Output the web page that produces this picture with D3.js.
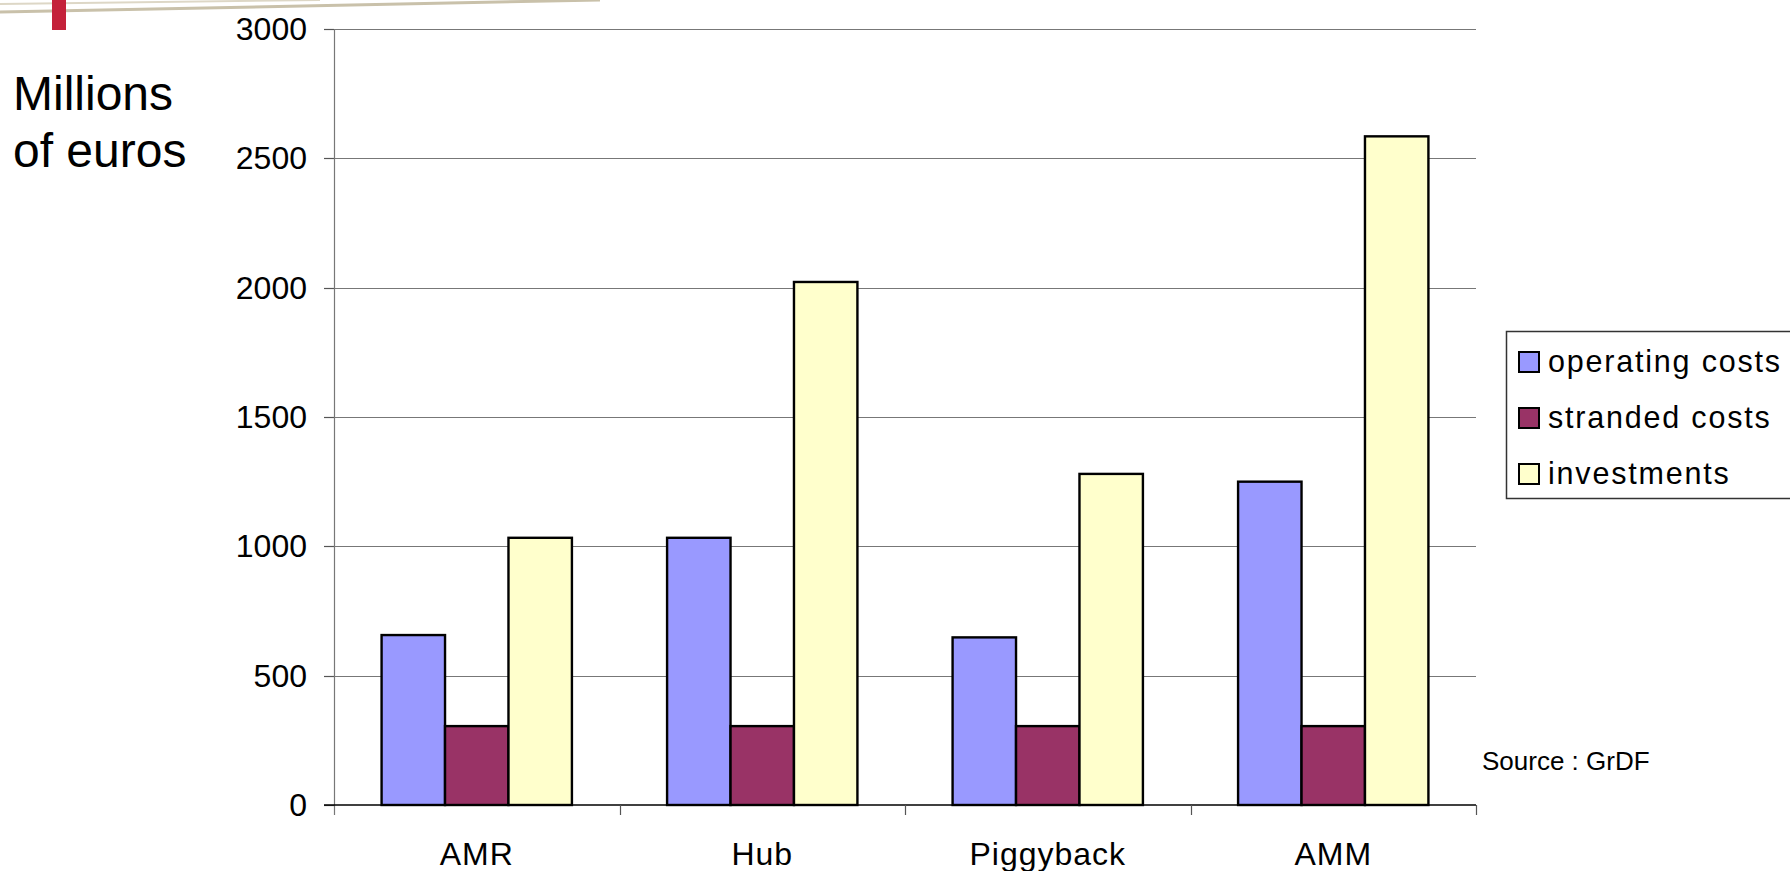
<!DOCTYPE html>
<meta charset="utf-8">
<style>
body { margin: 0; background: #fff; }
svg { display: block; font-family: "Liberation Sans", Arial, sans-serif; }
.grid line { stroke: #777; stroke-width: 1.2px; }
.bar { stroke: #000; stroke-width: 2.4px; }
.ytick text { font-size: 32px; fill: #000; }
.xlab { font-size: 32px; letter-spacing: 1px; fill: #000; }
.legend text { font-size: 30.5px; letter-spacing: 1.8px; fill: #000; }
</style>
<body>
<script src="https://cdn.jsdelivr.net/npm/d3@7"></script>
<script>
var width = 1790,
    height = 871;

// data (millions of euros)
var categories = ["AMR", "Hub", "Piggyback", "AMM"];
var seriesNames = ["operating costs", "stranded costs", "investments"];
var operatingCosts = [657, 1033, 648, 1250];
var strandedCosts = [305, 305, 305, 305];
var investments = [1033, 2022, 1280, 2585];
var yTicks = [0, 500, 1000, 1500, 2000, 2500, 3000];
var colors = ["#9999ff", "#993366", "#ffffcc"];

var series = [operatingCosts, strandedCosts, investments];

var plot = {left: 334, right: 1476, top: 29, bottom: 805};

var svg = d3.select("body").append("svg")
    .attr("width", width)
    .attr("height", height);

// decoration at the top left (slide template)
svg.append("path")
    .attr("d", "M0,12 Q260,6 600,0")
    .attr("fill", "none")
    .attr("stroke", "#c9c1aa")
    .attr("stroke-width", 3);
svg.append("path")
    .attr("d", "M0,4 Q150,2 320,0")
    .attr("fill", "none")
    .attr("stroke", "#ddd7c6")
    .attr("stroke-width", 2);
svg.append("rect")
    .attr("x", 52).attr("y", 0)
    .attr("width", 14).attr("height", 30)
    .attr("fill", "#c4213a");

var x = d3.scaleBand()
    .domain(categories)
    .range([plot.left, plot.right])
    .padding(0);

var step = x.bandwidth();
var barW = step / 4.5;   // gap width 150%
var xs = d3.scaleBand()
    .domain(d3.range(series.length))
    .range([step * 0.75 / 4.5, step * 0.75 / 4.5 + barW * 3])
    .padding(0);

var y = d3.scaleLinear()
    .domain([0, 3000])
    .range([plot.bottom, plot.top]);

// gridlines
var grid = svg.append("g").attr("class", "grid");
grid.selectAll("line")
    .data(yTicks.filter(function(d) { return d > 0; }))
    .enter().append("line")
    .attr("x1", plot.left).attr("x2", plot.right)
    .attr("y1", function(d) { return Math.round(y(d)) + 0.5; })
    .attr("y2", function(d) { return Math.round(y(d)) + 0.5; });

// y axis
var yAxis = svg.append("g").attr("class", "ytick");
yAxis.selectAll("line")
    .data(yTicks)
    .enter().append("line")
    .attr("x1", plot.left - 10).attr("x2", plot.left)
    .attr("y1", function(d) { return Math.round(y(d)) + 0.5; })
    .attr("y2", function(d) { return Math.round(y(d)) + 0.5; })
    .attr("stroke", "#555").attr("stroke-width", 1.2);
yAxis.selectAll("text")
    .data(yTicks)
    .enter().append("text")
    .attr("x", 307)
    .attr("y", function(d) { return y(d); })
    .attr("dy", "0.34em")
    .attr("text-anchor", "end")
    .text(function(d) { return d; });

// bars
var groups = svg.selectAll("g.cat")
    .data(categories)
    .enter().append("g")
    .attr("class", "cat")
    .attr("transform", function(d) { return "translate(" + x(d) + ",0)"; });

groups.selectAll("rect")
    .data(function(d, i) {
        return series.map(function(s, j) { return {s: j, v: s[i]}; });
    })
    .enter().append("rect")
    .attr("class", "bar")
    .attr("x", function(d) { return xs(d.s); })
    .attr("width", xs.bandwidth())
    .attr("y", function(d) { return y(d.v); })
    .attr("height", function(d) { return y(0) - y(d.v); })
    .attr("fill", function(d) { return colors[d.s]; });

// axis lines
svg.append("line")
    .attr("x1", plot.left + 0.5).attr("x2", plot.left + 0.5)
    .attr("y1", plot.top).attr("y2", plot.bottom + 10)
    .attr("stroke", "#777").attr("stroke-width", 1.2);
svg.append("line")
    .attr("x1", plot.left - 10).attr("x2", plot.right)
    .attr("y1", y(0)).attr("y2", y(0))
    .attr("stroke", "#000").attr("stroke-width", 1.6);

// category ticks at band edges
var edges = categories.map(function(c) { return x(c); }).concat([plot.right]);
svg.selectAll("line.xtick")
    .data(edges.slice(1))
    .enter().append("line")
    .attr("class", "xtick")
    .attr("x1", function(d) { return Math.round(d) + 0.5; })
    .attr("x2", function(d) { return Math.round(d) + 0.5; })
    .attr("y1", y(0)).attr("y2", y(0) + 10)
    .attr("stroke", "#555").attr("stroke-width", 1.2);

svg.selectAll("text.xlab")
    .data(categories)
    .enter().append("text")
    .attr("class", "xlab")
    .attr("x", function(d) { return x(d) + step / 2; })
    .attr("y", 865)
    .attr("text-anchor", "middle")
    .text(function(d) { return d; });

// y title
var title = svg.append("text")
    .attr("x", 13)
    .attr("font-size", 48)
    .attr("fill", "#000");
title.append("tspan").attr("x", 13).attr("y", 110).text("Millions");
title.append("tspan").attr("x", 13).attr("y", 167).text("of euros");

// legend
var legend = svg.append("g").attr("class", "legend");
legend.append("rect")
    .attr("x", 1506.5).attr("y", 331.5)
    .attr("width", 300).attr("height", 167)
    .attr("fill", "#fff")
    .attr("stroke", "#333").attr("stroke-width", 1.5);
var items = legend.selectAll("g.item")
    .data(seriesNames)
    .enter().append("g")
    .attr("class", "item")
    .attr("transform", function(d, i) { return "translate(1519," + (352 + i * 56) + ")"; });
items.append("rect")
    .attr("width", 20).attr("height", 20)
    .attr("fill", function(d, i) { return colors[i]; })
    .attr("stroke", "#000").attr("stroke-width", 2);
items.append("text")
    .attr("x", 29)
    .attr("y", 20)
    .text(function(d) { return d; });

svg.append("text")
    .attr("x", 1482)
    .attr("y", 770)
    .attr("font-size", 26)
    .text("Source : GrDF");
</script>
</body>
</html>
